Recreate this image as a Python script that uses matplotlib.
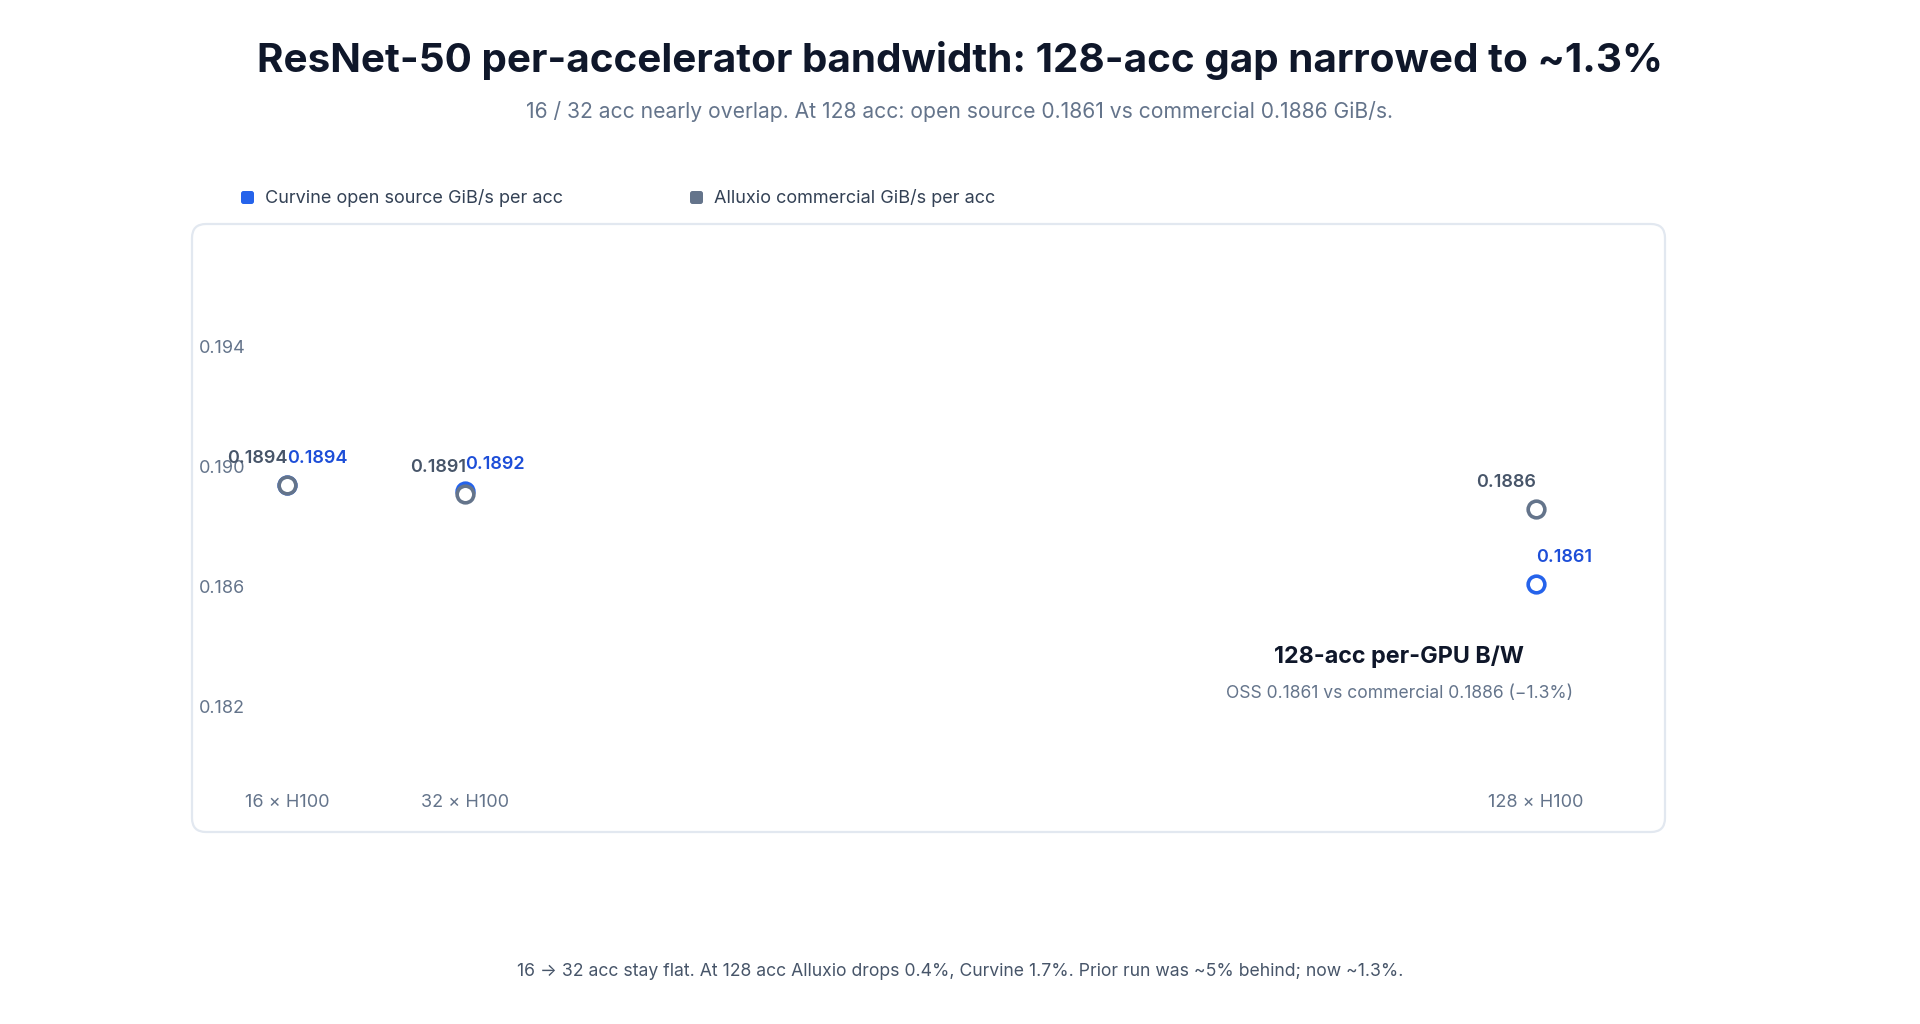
import matplotlib
matplotlib.use("Agg")
import matplotlib.pyplot as plt
from matplotlib.patches import FancyBboxPatch

plt.rcParams['font.family'] = ['Inter', 'DejaVu Sans']

# data
accels = [16, 32, 128]
x_labels = ['16 × H100', '32 × H100', '128 × H100']
curvine = [0.1894, 0.1892, 0.1861]
alluxio = [0.1894, 0.1891, 0.1886]
series_names = ['Curvine open source GiB/s per acc', 'Alluxio commercial GiB/s per acc']
y_ticks = [0.182, 0.186, 0.190, 0.194]

BLUE = '#2563eb'
BLUE_TXT = '#1d4ed8'
GRAY = '#64748b'
GRAY_TXT = '#475569'
DARK = '#0f172a'


def main():
    fig = plt.figure(figsize=(19.2, 10.24), dpi=100)
    fig.patch.set_facecolor('white')

    # rounded plot card
    card = FancyBboxPatch((1.92, 1.92), 14.73, 6.08,
                          boxstyle='round,pad=0,rounding_size=0.14',
                          transform=fig.dpi_scale_trans, facecolor='white',
                          edgecolor='#e2e8f0', linewidth=1.6, zorder=-5)
    fig.patches.append(card)

    ax = fig.add_axes([0.1, 0.1875, 0.7672, 0.59375])
    ax.set_zorder(2)
    ax.set_facecolor('none')
    for s in ax.spines.values():
        s.set_visible(False)
    ax.set_xlim(7.5, 139.6)
    ax.set_ylim(0.17782, 0.198087)

    ax.set_yticks(y_ticks)
    ax.set_yticklabels(['%.3f' % v for v in y_ticks])
    ax.tick_params(axis='y', length=0, pad=-5, labelsize=13, labelcolor=GRAY)
    for lbl in ax.get_yticklabels():
        lbl.set_ha('left')

    ax.set_xticks(accels)
    ax.set_xticklabels(x_labels)
    ax.tick_params(axis='x', length=0, pad=-21.5, labelsize=13, labelcolor=GRAY)
    for lbl in ax.get_xticklabels():
        lbl.set_va('center')

    ax.plot(accels, curvine, linestyle='none', marker='o', markersize=12,
            markerfacecolor='white', markeredgecolor=BLUE, markeredgewidth=2.6, zorder=3)
    ax.plot(accels, alluxio, linestyle='none', marker='o', markersize=12,
            markerfacecolor='white', markeredgecolor=GRAY, markeredgewidth=2.6, zorder=4)

    for x, v in zip(accels, alluxio):
        ax.annotate('%.4f' % v, (x, v), xytext=(0.5, 18.5), textcoords='offset points',
                    ha='right', va='center', fontsize=13, fontweight='semibold',
                    color=GRAY_TXT, zorder=5)
    for x, v in zip(accels, curvine):
        ax.annotate('%.4f' % v, (x, v), xytext=(0, 18.5), textcoords='offset points',
                    ha='left', va='center', fontsize=13, fontweight='semibold',
                    color=BLUE_TXT, zorder=5)

    # callout at 128
    gap = (curvine[2] - alluxio[2]) / alluxio[2] * 100
    fig.text(1399 / 1920, 1 - 657 / 1024, '128-acc per-GPU B/W', ha='center', va='center',
             fontsize=16.8, fontweight='bold', color=DARK)
    fig.text(1400 / 1920, 1 - 694 / 1024,
             'OSS %.4f vs commercial %.4f (\u2212%.1f%%)' % (curvine[2], alluxio[2], abs(gap)),
             ha='center', va='center', fontsize=12.6, color=GRAY)

    # titles
    fig.text(0.5, 1 - 60 / 1024, 'ResNet-50 per-accelerator bandwidth: 128-acc gap narrowed to ~1.3%',
             ha='center', va='center', fontsize=29.1, fontweight='bold', color=DARK)
    fig.text(0.5, 1 - 112 / 1024,
             '16 / 32 acc nearly overlap. At 128 acc: open source 0.1861 vs commercial 0.1886 GiB/s.',
             ha='center', va='center', fontsize=15.2, color=GRAY)

    # legend
    for i, (name, col) in enumerate(zip(series_names, [BLUE, GRAY])):
        x0 = [241, 690][i]
        sq = FancyBboxPatch((x0 / 100, (1024 - 204) / 100), 0.13, 0.13,
                            boxstyle='round,pad=0,rounding_size=0.025',
                            transform=fig.dpi_scale_trans, facecolor=col, edgecolor='none')
        fig.patches.append(sq)
        fig.text((x0 + 24) / 1920, 1 - 198 / 1024, name, ha='left', va='center',
                 fontsize=13, color='#334155')

    # footer
    fig.text(0.5, 1 - 971 / 1024,
             '16 \u2192 32 acc stay flat. At 128 acc Alluxio drops 0.4%, Curvine 1.7%. '
             'Prior run was ~5% behind; now ~1.3%.',
             ha='center', va='center', fontsize=12.7, color=GRAY_TXT)

    fig.savefig('out.png', dpi=100, facecolor='white')


if __name__ == "__main__":
    main()
